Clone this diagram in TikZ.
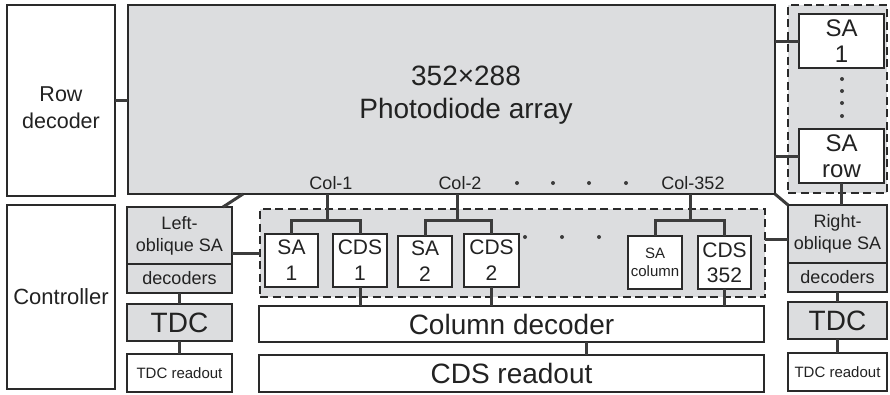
\documentclass[tikz,border=0pt]{standalone}
\usepackage{fontspec}
\setmainfont{Liberation Sans}
\definecolor{grayc}{HTML}{DCDDDF}
\definecolor{bordc}{HTML}{2A2A2A}
\definecolor{connc}{HTML}{3C3C3C}
\definecolor{txtc}{HTML}{222222}
\newcommand{\fs}[2]{\fontsize{#1}{#2}\selectfont}
\begin{document}
\begin{tikzpicture}[x=1pt,y=-1pt,
  box/.style={draw=bordc, line width=1.4pt, fill=white, inner sep=0pt, outer sep=0pt, align=center, text=txtc},
  gbox/.style={box, fill=grayc},
  dbox/.style={draw=bordc, line width=2.3pt, dash pattern=on 8pt off 4.5pt, fill=grayc, inner sep=0pt, outer sep=0pt},
  conn/.style={draw=connc, line width=3pt},
  lbl/.style={text=txtc, inner sep=0pt, font=\fs{18}{22}},
  inlbl/.style={text=txtc, inner sep=0pt, align=center},
  dotn/.style={circle, fill=connc, inner sep=0pt, minimum size=4pt},
]
\useasboundingbox (0,0) rectangle (890,394);

% dashed groups
\node[dbox, minimum width=99pt, minimum height=188pt] (rsab) at (837.5,99) {};
\node[dbox, minimum width=505pt, minimum height=88pt] (cbox) at (512.5,253) {};

% main blocks
\node[box, minimum width=108pt, minimum height=191pt] (rowdec) at (61,100.5) {};
\node[inlbl, font=\fs{21.5}{27}] (rowdect) at (61,108) {Row\\decoder};
\node[gbox, minimum width=647pt, minimum height=189pt] (pd) at (451.5,99.5) {};
\node[inlbl, font=\fs{28}{33}] (pdt) at (466,95) {352×288\\Photodiode array};
\node[box, minimum width=108pt, minimum height=184pt, font=\fs{22}{26}] (ctrl) at (61,297) {Controller};

% left column
\node[gbox, minimum width=105pt, minimum height=57pt, font=\fs{18}{22}] (lobl) at (179.5,235.5) {Left-\\oblique SA};
\node[gbox, minimum width=105pt, minimum height=29pt, font=\fs{18}{22}] (ldec) at (179.5,278.5) {decoders};
\node[gbox, minimum width=105pt, minimum height=37pt, font=\fs{28}{32}] (ltdc) at (179.5,322.5) {TDC};
\node[box, minimum width=105pt, minimum height=38pt, font=\fs{15}{18}] (lro) at (179.5,373) {TDC readout};

% right column
\node[box, minimum width=85pt, minimum height=54pt, font=\fs{24}{26}] (sa1r) at (841.5,41) {SA\\1};
\node[box, minimum width=85pt, minimum height=54pt, font=\fs{24}{26}] (sarow) at (841.5,156) {SA\\row};
\node[gbox, minimum width=99pt, minimum height=58pt, font=\fs{18}{22}] (robl) at (837.5,234) {Right-\\oblique SA};
\node[gbox, minimum width=99pt, minimum height=29pt, font=\fs{18}{22}] (rdec) at (837.5,277.5) {decoders};
\node[gbox, minimum width=99pt, minimum height=37pt, font=\fs{28}{32}] (rtdc) at (837.5,320.5) {TDC};
\node[box, minimum width=99pt, minimum height=38pt, font=\fs{15}{18}] (rro) at (837.5,372) {TDC readout};

% bottom blocks
\node[box, minimum width=505pt, minimum height=36pt, font=\fs{28}{32}] (coldec) at (511.5,324) {Column decoder};
\node[box, minimum width=505pt, minimum height=37pt, font=\fs{28}{32}] (cdsro) at (511.5,373.5) {CDS readout};

% connectors (drawn before the column cells)
\coordinate (col1) at (327,220);
\coordinate (col2) at (457,220);
\coordinate (col3) at (690,220);
\coordinate (ldiagA) at (243,194);
\coordinate (ldiagB) at (223,207);
\coordinate (rlink) at (0,239);
\coordinate (cdlink) at (586,0);

\draw[conn] (rowdec.east) -- (pd.west |- rowdec.east);
\draw[conn] (pd.east |- sa1r.west) -- (sa1r.west);
\draw[conn] (pd.east |- sarow.west) -- (sarow.west);
\draw[conn] (sarow.south) -- (robl.north -| sarow.south);
\draw[conn] (pd.south east) -- (robl.north west);
\draw[conn] (ldiagA) -- (ldiagB);
\draw[conn] (cbox.west) -- (cbox.west -| lobl.east);
\draw[conn] (cbox.east |- rlink) -- (robl.west |- rlink);
\draw[conn] (ldec.south) -- (ltdc.north);
\draw[conn] (ltdc.south) -- (lro.north);
\draw[conn] (rdec.south) -- (rtdc.north);
\draw[conn] (rtdc.south) -- (rro.north);
\draw[conn] (coldec.south -| cdlink) -- (cdsro.north -| cdlink);

% column cells
\node[box, minimum width=53pt, minimum height=53pt, font=\fs{21}{26}] (sa1) at (291.5,260.5) {SA\\1};
\node[box, minimum width=54pt, minimum height=53pt, font=\fs{21}{26}] (cds1) at (360,260.5) {CDS\\1};
\node[box, minimum width=54pt, minimum height=51pt, font=\fs{21}{26}] (sa2) at (425,261.5) {SA\\2};
\node[box, minimum width=55pt, minimum height=53pt, font=\fs{21}{26}] (cds2) at (491.5,260.5) {CDS\\2};
\node[box, minimum width=54pt, minimum height=53pt, font=\fs{15}{18}] (sacol) at (655,262.5) {SA\\column};
\node[box, minimum width=53pt, minimum height=53pt, font=\fs{21}{25}] (cds352) at (724.5,262.5) {CDS\\352};

\draw[conn] (pd.south -| col1) -- (col1);
\draw[conn] (sa1.north) |- (col1) -| (cds1.north);
\draw[conn] (pd.south -| col2) -- (col2);
\draw[conn] (sa2.north) |- (col2) -| (cds2.north);
\draw[conn] (pd.south -| col3) -- (col3);
\draw[conn] (sacol.north) |- (col3) -| (cds352.north);
\draw[conn] (cds1.south) -- (coldec.north -| cds1.south);
\draw[conn] (cds2.south) -- (coldec.north -| cds2.south);
\draw[conn] (cds352.south) -- (coldec.north -| cds352.south);

% labels
\node[lbl] (l1) at (331,183) {Col-1};
\node[lbl] (l2) at (460,183) {Col-2};
\node[lbl] (l3) at (693,183) {Col-352};

% dots
\node[dotn] (d1) at (517,183) {};
\node[dotn] (d2) at (553,183) {};
\node[dotn] (d3) at (589,183) {};
\node[dotn] (d4) at (626,183) {};
\node[dotn] (e1) at (525,237) {};
\node[dotn] (e2) at (562,237) {};
\node[dotn] (e3) at (599,237) {};
\node[dotn] (v1) at (842,79) {};
\node[dotn] (v2) at (842,91) {};
\node[dotn] (v3) at (842,103) {};
\node[dotn] (v4) at (842,116) {};
\end{tikzpicture}
\end{document}
